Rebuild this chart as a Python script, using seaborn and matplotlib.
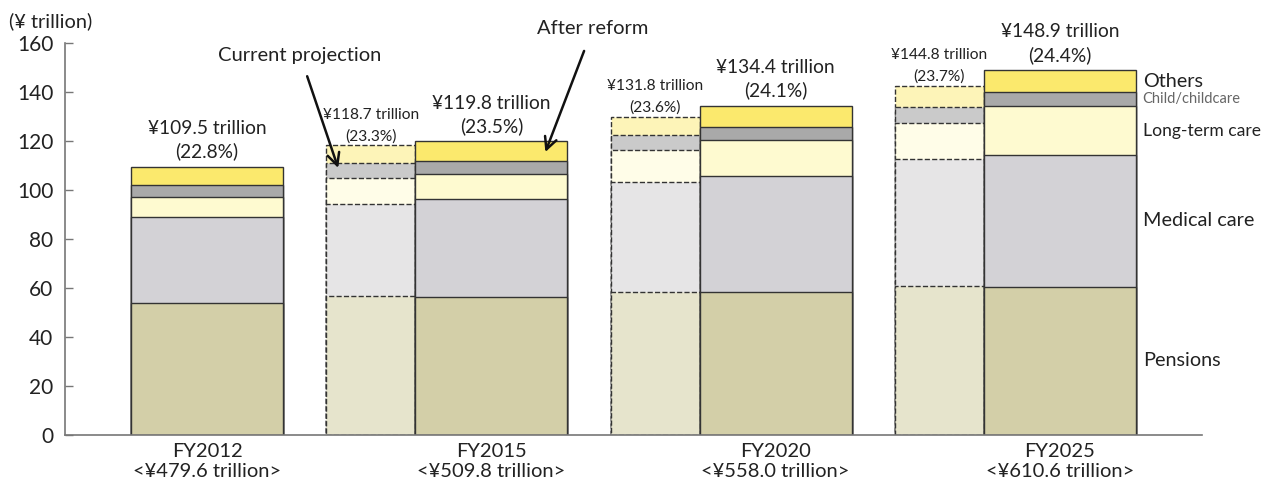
import numpy as np
import pandas as pd
import matplotlib
matplotlib.use("Agg")
import matplotlib.pyplot as plt
import seaborn as sns

# ---------------- data ----------------
categories = ["FY2012", "FY2015", "FY2020", "FY2025"]
gdp_labels = ["<¥479.6 trillion>", "<¥509.8 trillion>", "<¥558.0 trillion>", "<¥610.6 trillion>"]
components = ["Pensions", "Medical care", "Long-term care", "Child/childcare", "Others"]

# After reform (solid bars), all four years
ref_pensions = [53.8, 56.4, 58.5, 60.6]
ref_medical = [35.1, 39.8, 47.2, 53.7]
ref_ltc = [8.4, 10.3, 14.9, 19.8]
ref_child = [4.6, 5.5, 5.3, 5.8]
ref_others = [7.6, 7.8, 8.5, 9.0]
ref_totals = ["¥109.5 trillion", "¥119.8 trillion", "¥134.4 trillion", "¥148.9 trillion"]
ref_pct = ["(22.8%)", "(23.5%)", "(24.1%)", "(24.4%)"]

# Current projection (dashed bars), FY2015 / FY2020 / FY2025
cur_categories = ["FY2015", "FY2020", "FY2025"]
cur_pensions = [56.9, 58.3, 60.8]
cur_medical = [37.4, 44.9, 51.7]
cur_ltc = [10.7, 13.2, 14.7]
cur_child = [5.9, 6.0, 6.6]
cur_others = [7.3, 7.4, 8.8]
cur_totals = ["¥118.7 trillion", "¥131.8 trillion", "¥144.8 trillion"]
cur_pct = ["(23.3%)", "(23.6%)", "(23.7%)"]

# ---------------- style ----------------
sns.set_theme(style="ticks")
plt.rcParams["font.family"] = ["Lato", "DejaVu Sans"]

solid_colors = ["#d3cfa8", "#d3d2d6", "#fefad0", "#a9a9a9", "#fbe96d"]
dash_colors = ["#e6e4cc", "#e6e5e6", "#fffde8", "#cacaca", "#fdf4b8"]
label_sizes = {"Pensions": 14.3, "Medical care": 14.3, "Long-term care": 12.6,
               "Child/childcare": 10.5, "Others": 14.3}

SOLID_W = 0.535
DASH_W = 0.313

fig = plt.figure(figsize=(12.67, 4.86), dpi=100)
ax = fig.add_axes([65 / 1267, 1 - 435 / 486, (1202 - 65) / 1267, (435 - 43) / 486])

ref = pd.DataFrame({"cat": categories, "Pensions": ref_pensions, "Medical care": ref_medical,
                    "Long-term care": ref_ltc, "Child/childcare": ref_child, "Others": ref_others})
ref["pos"] = [categories.index(c) for c in ref["cat"]]
cur = pd.DataFrame({"cat": cur_categories, "Pensions": cur_pensions, "Medical care": cur_medical,
                    "Long-term care": cur_ltc, "Child/childcare": cur_child, "Others": cur_others})
cur["pos"] = [categories.index(c) - SOLID_W / 2 - DASH_W / 2 for c in cur["cat"]]

for df, cols, w, ls, ec in [(cur, dash_colors, DASH_W, "--", "#333333"),
                            (ref, solid_colors, SOLID_W, "-", "#333333")]:
    cum = df[components].cumsum(axis=1)
    for i in range(len(components) - 1, -1, -1):
        sns.barplot(x=df["pos"], y=cum[components[i]], native_scale=True, width=w,
                    color=cols[i], saturation=1, edgecolor=ec, linewidth=1.0,
                    linestyle=ls, ax=ax, errorbar=None, zorder=2)
    df["top"] = cum[components[-1]]

# total labels
for p, t, tot, pc in zip(ref["pos"], ref["top"], ref_totals, ref_pct):
    ax.annotate(f"{tot}\n{pc}", (p, t), xytext=(0, 4.5), textcoords="offset points",
                ha="center", va="bottom", fontsize=13.8, linespacing=1.38, color="#222222")
for p, t, tot, pc in zip(cur["pos"], cur["top"], cur_totals, cur_pct):
    ax.annotate(f"{tot}\n{pc}", (p, t), xytext=(0, 1.5), textcoords="offset points",
                ha="center", va="bottom", fontsize=11.2, linespacing=1.65, color="#222222")

# component labels at right of last bar
last = ref.iloc[-1]
mids = (ref[components].cumsum(axis=1).iloc[-1] - ref[components].iloc[-1] / 2)
for comp in components:
    small = comp == "Child/childcare"
    ax.text(last["pos"] + SOLID_W / 2 + 0.024, mids[comp], comp, ha="left", va="center",
            fontsize=label_sizes[comp], color="#666666" if small else "#222222",
            clip_on=False)

# arrows
ax.annotate("Current projection", xy=(0.461, 109.0), xytext=(0.327, 155.0),
            ha="center", va="center", fontsize=14.5, color="#222222",
            arrowprops=dict(arrowstyle="->,head_length=0.6,head_width=0.3", lw=1.8,
                            color="#111111", shrinkA=7, shrinkB=0))
ax.annotate("After reform", xy=(1.19, 115.5), xytext=(1.356, 165.8),
            ha="center", va="center", fontsize=14.5, color="#222222", annotation_clip=False,
            arrowprops=dict(arrowstyle="->,head_length=0.6,head_width=0.3", lw=1.8,
                            color="#111111", shrinkA=8, shrinkB=0))

# axes formatting
ax.set_xlim(-0.5, 3.5)
ax.set_ylim(0, 160)
ax.set_yticks(np.arange(0, 161, 20))
ax.set_xticks(range(len(categories)))
ax.set_xticklabels([f"{c}\n{g}" for c, g in zip(categories, gdp_labels)], fontsize=14.5,
                   linespacing=1.2, color="#222222")
ax.tick_params(axis="x", length=0, pad=6)
ax.tick_params(axis="y", direction="in", length=6, width=1, color="#777777", labelsize=15,
               labelcolor="#222222", pad=8.5)
ax.set_xlabel("")
ax.set_ylabel("")
for s in ["top", "right"]:
    ax.spines[s].set_visible(False)
for s in ["left", "bottom"]:
    ax.spines[s].set_color("#777777")
    ax.spines[s].set_linewidth(1.2)
ax.grid(False)

fig.text(9 / 1267, 1 - 21 / 486, "(¥ trillion)", ha="left", va="center", fontsize=14.4, color="#222222")

fig.savefig("out.png", dpi=100)
